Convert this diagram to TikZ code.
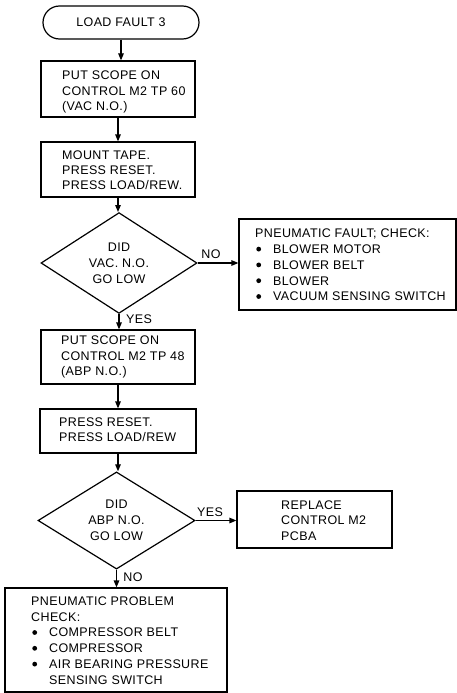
\documentclass[tikz,border=0pt]{standalone}
\usepackage{fontspec}
\setmainfont{Liberation Sans}[LetterSpace=3]
\usetikzlibrary{shapes.geometric,arrows.meta}
% round bullet for check lists, 18pt indent to the item text
\newcommand\bul{\tikz[baseline=0pt]{\useasboundingbox (0pt,0pt) rectangle (18pt,1pt);\fill (3.5pt,4.4pt) circle (2.4pt);}}
\tikzset{
  flow/.style={line width=1.2pt, -{Triangle[length=7pt,width=5.5pt]}},
  stepbox/.style={draw, line width=1.2pt, inner sep=0pt},
  decision/.style={draw, diamond, line width=1.2pt, inner sep=0pt, align=center,
    font=\fontsize{12.5}{16}\selectfont},
  txt/.style={inner sep=0pt, align=left, font=\fontsize{12.5}{15.3}\selectfont},
  listtxt/.style={inner sep=0pt, align=left, font=\fontsize{12.5}{15.8}\selectfont},
  lbl/.style={inner sep=0pt, font=\fontsize{12.5}{15}\selectfont}
}
\begin{document}
\begin{tikzpicture}[x=1pt,y=-1pt]
\useasboundingbox (0,0) rectangle (457,693);

% main column
\node[stepbox, rounded corners=16.5pt, minimum width=156pt, minimum height=33pt,
  font=\fontsize{12.5}{15}\selectfont] (start) at (121,22.5) {LOAD FAULT 3};

\node[stepbox, minimum width=154pt, minimum height=56pt] (s1) at (118,89) {};
\node[txt, anchor=west] (s1t) at (62,92) {PUT SCOPE ON\\CONTROL M2 TP 60\\(VAC N.O.)};

\node[stepbox, minimum width=154pt, minimum height=55pt] (s2) at (118,169.5) {};
\node[txt, anchor=west] (s2t) at (62,170) {MOUNT TAPE.\\PRESS RESET.\\PRESS LOAD/REW.};

\node[decision, minimum width=156pt, minimum height=90pt] (d1) at (119,263) {DID\\VAC. N.O.\\GO LOW};

\node[stepbox, minimum width=154pt, minimum height=54pt] (s3) at (118,357) {};
\node[txt, anchor=west] (s3t) at (61,357) {PUT SCOPE ON\\CONTROL M2 TP 48\\(ABP N.O.)};

\node[stepbox, minimum width=156pt, minimum height=44pt] (s4) at (118,431) {};
\node[txt, anchor=west] (s4t) at (59,430) {PRESS RESET.\\PRESS LOAD/REW};

\node[decision, minimum width=157pt, minimum height=89pt] (d2) at (116.5,520.5) {DID\\ABP N.O.\\GO LOW};

\node[stepbox, minimum width=222pt, minimum height=104pt] (p2) at (116,640) {};
\node[listtxt, anchor=west] (p2t) at (31,640.5) {PNEUMATIC PROBLEM\\CHECK:\\
  \bul COMPRESSOR BELT\\\bul COMPRESSOR\\\bul AIR BEARING PRESSURE\\\hspace*{18pt}SENSING SWITCH};

% side outcomes
\node[stepbox, minimum width=217pt, minimum height=91pt] (p1) at (347.5,264.5) {};
\node[listtxt, anchor=west] (p1t) at (255,265) {PNEUMATIC FAULT; CHECK:\\
  \bul BLOWER MOTOR\\\bul BLOWER BELT\\\bul BLOWER\\\bul VACUUM SENSING SWITCH};

\node[stepbox, minimum width=155pt, minimum height=57pt] (rep) at (314.5,519.5) {};
\node[txt, anchor=west] (rept) at (281,520.5) {REPLACE\\CONTROL M2\\PCBA};

% connectors
\draw[flow] (start.south) -- (start.south |- s1.north);
\draw[flow] (s1.south) -- (s2.north);
\draw[flow] (s2.south) -- (s2.south |- d1.north);
\draw[flow] (d1.south) -- (d1.south |- s3.north);
\draw[flow] (s3.south) -- (s4.north);
\draw[flow] (s4.south) -- (s4.south |- d2.north);
\draw[flow] (d2.south) -- (d2.south |- p2.north);
\draw[flow] (d1.east) -- (d1.east -| p1.west);
\draw[flow] (d2.east) -- (d2.east -| rep.west);

% branch labels
\node[lbl] (no1) at (211,254) {NO};
\node[lbl] (yes1) at (139,319) {YES};
\node[lbl] (yes2) at (210,512) {YES};
\node[lbl] (no2) at (133,577) {NO};
\end{tikzpicture}
\end{document}
